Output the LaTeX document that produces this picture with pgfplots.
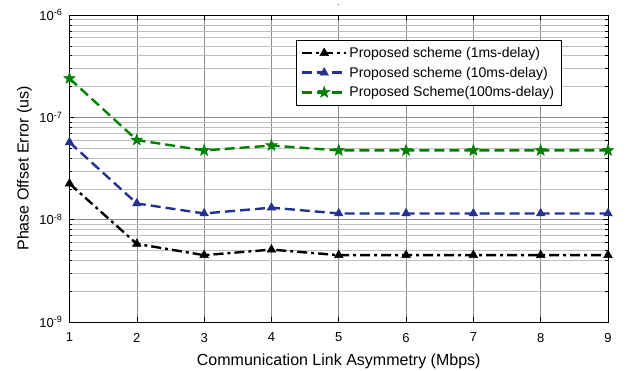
\documentclass[border=0pt]{standalone}
\usepackage{pgfplots}
\pgfplotsset{compat=1.18}
\usepackage{fontspec}
\setmainfont{Liberation Sans}
\definecolor{mblue}{RGB}{35,50,145}
\definecolor{mgreen}{RGB}{0,128,0}
\pgfdeclareplotmark{pstar}{%
  \pgfpathmoveto{\pgfpointpolar{90}{\pgfplotmarksize}}%
  \pgfpathlineto{\pgfpointpolar{126}{0.42\pgfplotmarksize}}%
  \pgfpathlineto{\pgfpointpolar{162}{\pgfplotmarksize}}%
  \pgfpathlineto{\pgfpointpolar{198}{0.42\pgfplotmarksize}}%
  \pgfpathlineto{\pgfpointpolar{234}{\pgfplotmarksize}}%
  \pgfpathlineto{\pgfpointpolar{270}{0.42\pgfplotmarksize}}%
  \pgfpathlineto{\pgfpointpolar{306}{\pgfplotmarksize}}%
  \pgfpathlineto{\pgfpointpolar{342}{0.42\pgfplotmarksize}}%
  \pgfpathlineto{\pgfpointpolar{18}{\pgfplotmarksize}}%
  \pgfpathlineto{\pgfpointpolar{54}{0.42\pgfplotmarksize}}%
  \pgfpathclose
  \pgfusepathqfillstroke}
\begin{document}
\begin{tikzpicture}
\begin{axis}[
  at={(0,0)}, anchor=south west,
  scale only axis, width=538.5pt, height=307pt,
  xmin=1, xmax=9, ymode=log, ymin=1e-9, ymax=1e-6,
  xtick={1,2,3,4,5,6,7,8,9},
  xticklabels={1,2,3,4,5,6,7,8,9},
  ytick={1e-9,1e-8,1e-7,1e-6},
  yticklabels={10\textsuperscript{-9},10\textsuperscript{-8},10\textsuperscript{-7},10\textsuperscript{-6}},
  minor ytick={2e-9,3e-9,4e-9,5e-9,6e-9,7e-9,8e-9,9e-9,2e-8,3e-8,4e-8,5e-8,6e-8,7e-8,8e-8,9e-8,2e-7,3e-7,4e-7,5e-7,6e-7,7e-7,8e-7,9e-7},
  xtick pos=both, ytick pos=both,
  tick align=inside,
  grid=both,
  major grid style={black!45, line width=0.5pt},
  minor grid style={black!25, line width=0.5pt},
  tick style={black, line width=0.6pt},
  major tick length=5pt, minor tick length=3pt,
  axis line style={line width=0.9pt},
  tick label style={font=\fontsize{13}{15}\selectfont},
  xticklabel style={yshift=-7.5pt},
  yticklabel style={xshift=-3.5pt},
  label style={font=\fontsize{16}{18}\selectfont},
  xlabel={Communication Link Asymmetry (Mbps)},
  ylabel={Phase Offset Error (us)},
  xlabel style={at={(axis description cs:0.5,0)}, anchor=center, yshift=-39pt},
  ylabel style={at={(axis description cs:0,0.5)}, anchor=center, yshift=45pt},
  title={.}, title style={at={(axis description cs:0.5,1)}, anchor=base, yshift=4pt, inner sep=0pt, font=\fontsize{8}{9}\selectfont},
  legend style={at={(0.42,0.919)}, anchor=north west, draw=black, line width=0.7pt,
    font=\fontsize{14}{16}\selectfont, inner xsep=5pt, inner ysep=5pt, row sep=4pt,
    cells={anchor=west}},
  legend image code/.code={%
    \draw[mark repeat=2, mark phase=2] plot coordinates {(0pt,0pt) (22pt,0pt) (44pt,0pt)};},
]
\addplot[black, line width=2.4pt, dash pattern=on 10pt off 4pt on 3pt off 4pt,
  mark=triangle*, mark size=5pt, mark options={solid, line width=0.5pt}]
  coordinates {(1,2.25e-8) (2,5.8e-9) (3,4.5e-9) (4,5.1e-9) (5,4.5e-9) (6,4.5e-9) (7,4.5e-9) (8,4.5e-9) (9,4.5e-9)};
\addlegendentry{Proposed scheme (1ms-delay)}
\addplot[mblue, line width=2.4pt, dash pattern=on 10pt off 5pt,
  mark=triangle*, mark size=5pt, mark options={solid, line width=0.5pt}]
  coordinates {(1,5.7e-8) (2,1.44e-8) (3,1.15e-8) (4,1.31e-8) (5,1.15e-8) (6,1.15e-8) (7,1.15e-8) (8,1.15e-8) (9,1.15e-8)};
\addlegendentry{Proposed scheme (10ms-delay)}
\addplot[mgreen, line width=2.4pt, dash pattern=on 10pt off 5pt,
  mark=pstar, mark size=6pt, mark options={solid, line width=0.5pt}]
  coordinates {(1,2.4e-7) (2,6.0e-8) (3,4.75e-8) (4,5.3e-8) (5,4.75e-8) (6,4.75e-8) (7,4.75e-8) (8,4.75e-8) (9,4.75e-8)};
\addlegendentry{Proposed Scheme(100ms-delay)}
\end{axis}
\pgfresetboundingbox
\path[use as bounding box] (-69.5pt,-48pt) rectangle (560.5pt,322pt);
\end{tikzpicture}
\end{document}
